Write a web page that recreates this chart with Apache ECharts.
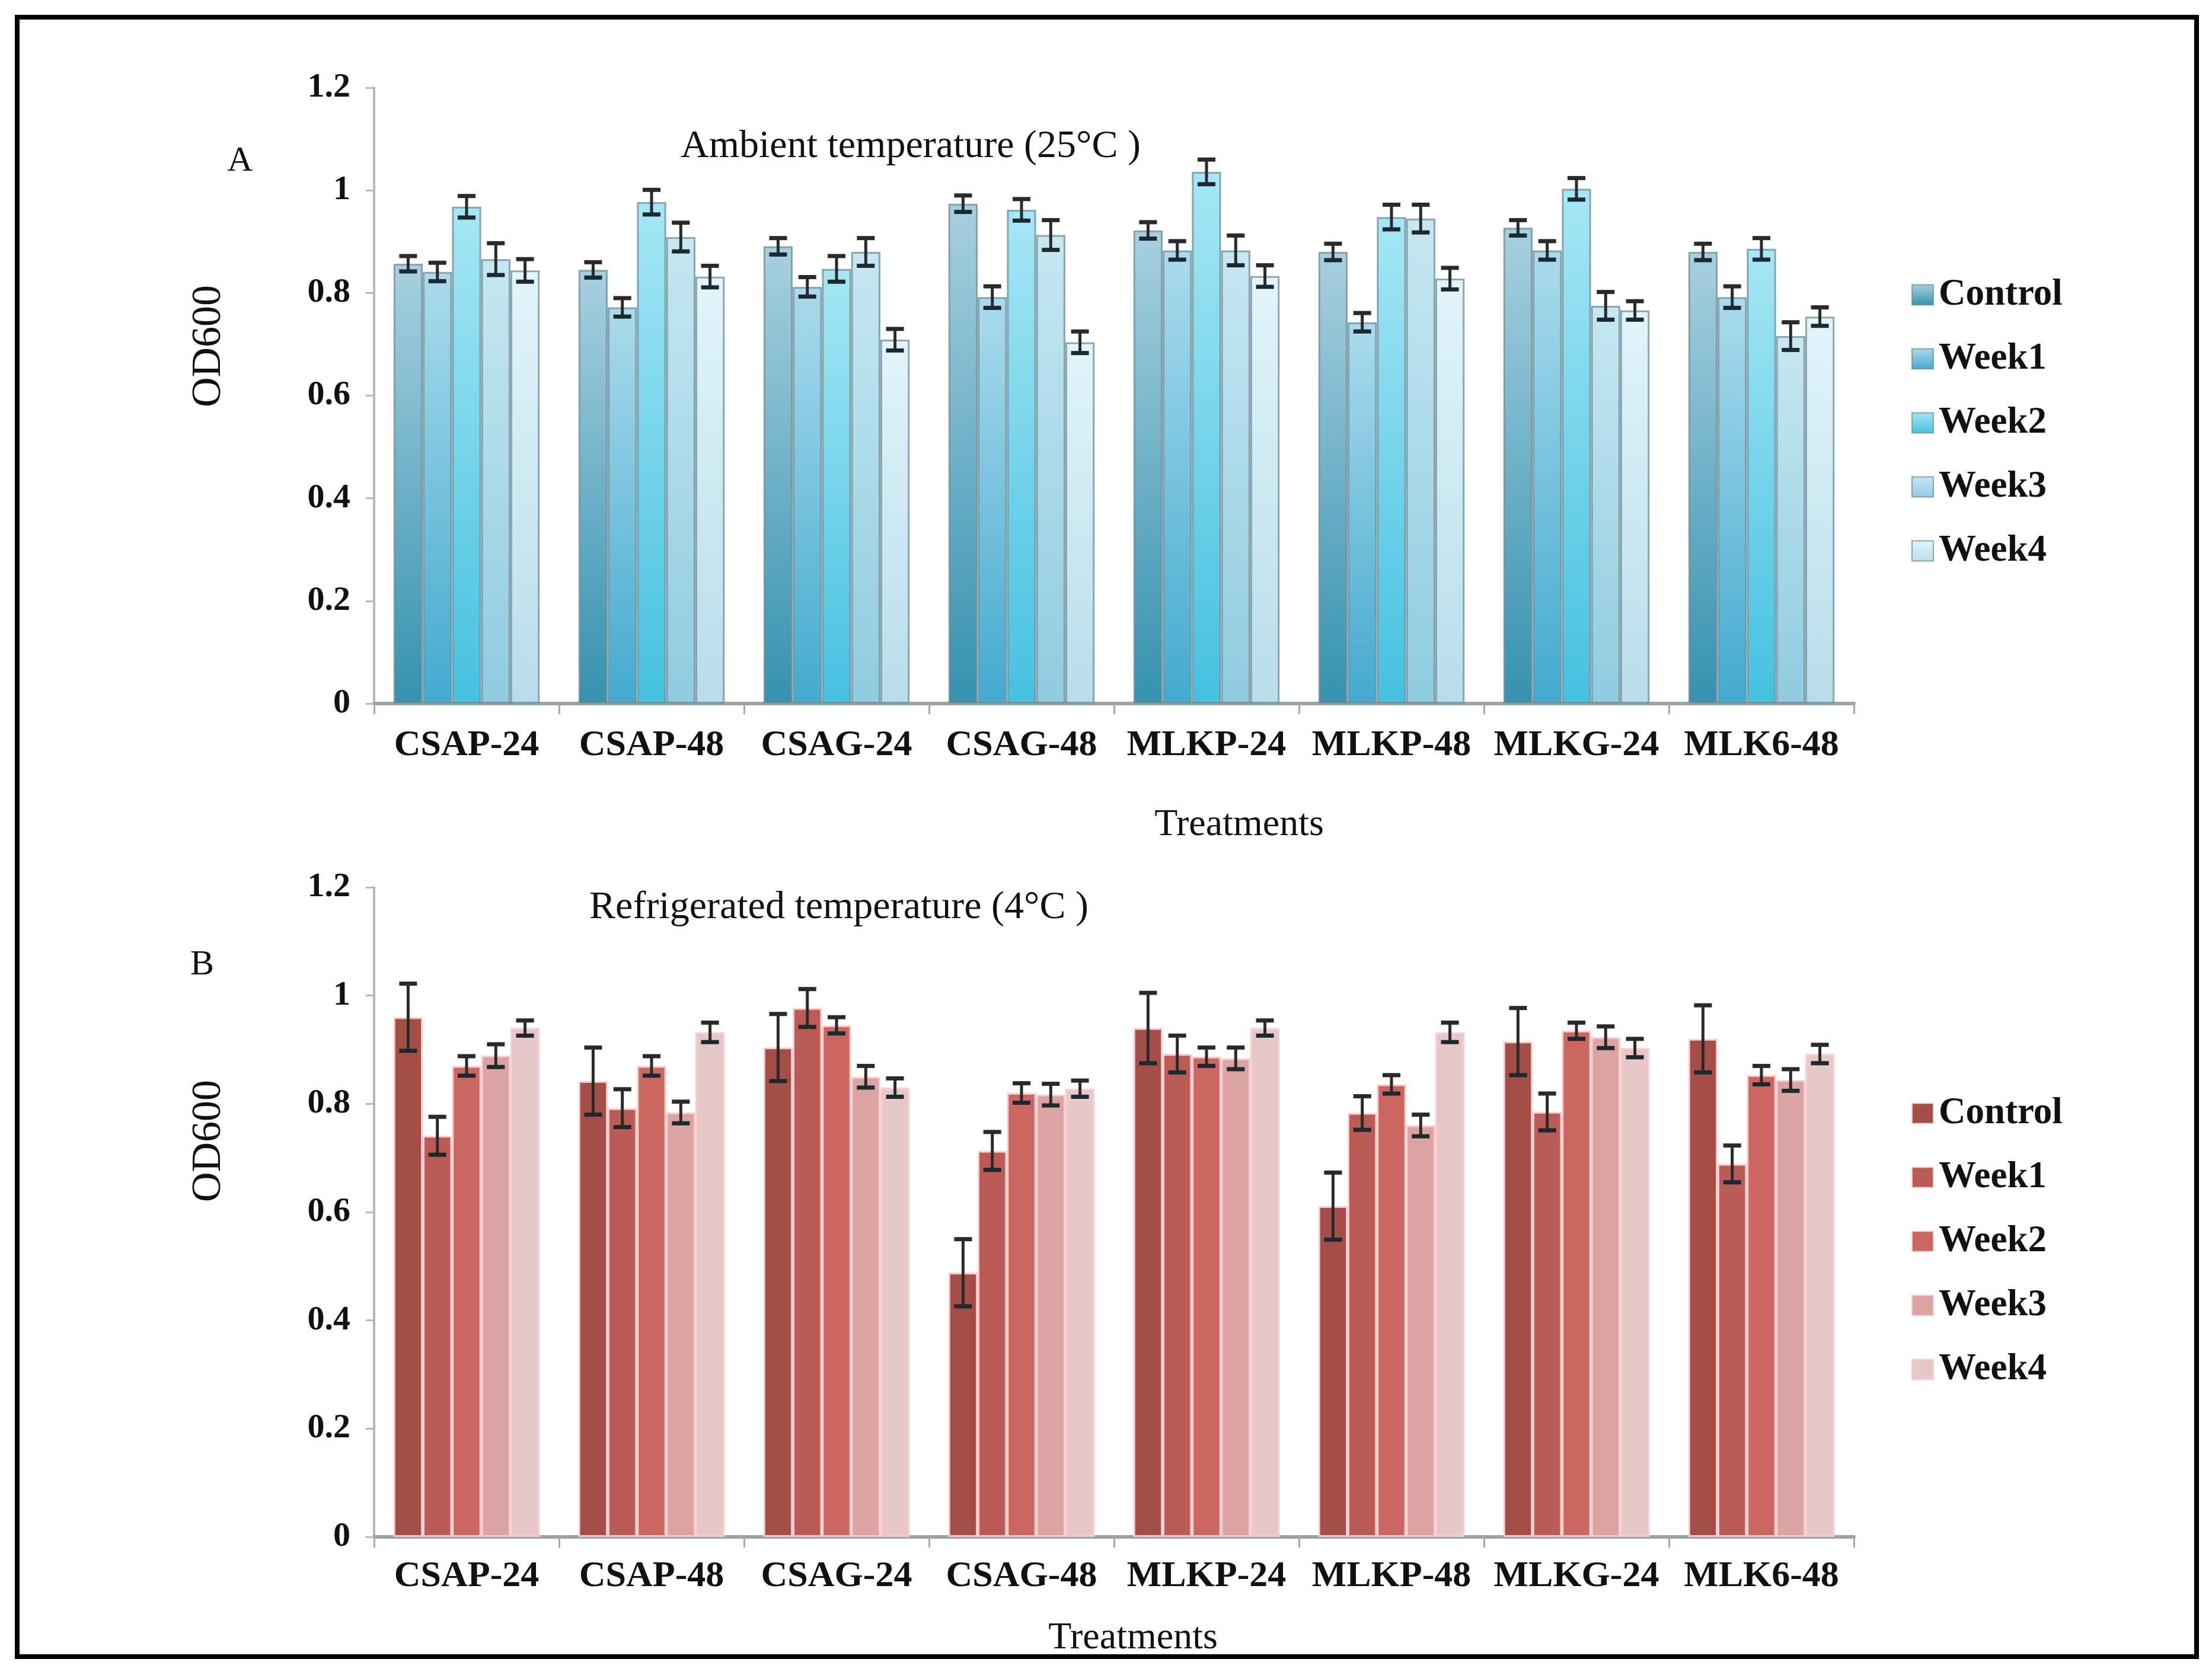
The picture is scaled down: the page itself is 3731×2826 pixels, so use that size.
<!DOCTYPE html>
<html>
<head>
<meta charset="utf-8">
<script src="https://cdn.jsdelivr.net/npm/echarts@6/dist/echarts.min.js"></script>
<style>
html,body{margin:0;padding:0;background:#fff;}
#main{width:3731px;height:2826px;}
</style>
</head>
<body>
<div id="main"></div>
<script>
const categories = ['CSAP-24','CSAP-48','CSAG-24','CSAG-48','MLKP-24','MLKP-48','MLKG-24','MLK6-48'];
const seriesNames = ['Control','Week1','Week2','Week3','Week4'];
const yTicks = [0,0.2,0.4,0.6,0.8,1,1.2];

// Panel A: ambient temperature (25°C)
const ambControl = [0.857,0.845,0.891,0.974,0.922,0.880,0.927,0.880];
const ambWeek1   = [0.841,0.772,0.812,0.792,0.883,0.743,0.883,0.792];
const ambWeek2   = [0.968,0.977,0.847,0.962,1.036,0.948,1.003,0.886];
const ambWeek3   = [0.866,0.909,0.880,0.913,0.883,0.945,0.775,0.716];
const ambWeek4   = [0.844,0.832,0.709,0.704,0.833,0.828,0.766,0.754];
const ambErrControl = [0.015,0.015,0.016,0.016,0.016,0.016,0.015,0.016];
const ambErrWeek1   = [0.018,0.018,0.019,0.021,0.018,0.018,0.018,0.021];
const ambErrWeek2   = [0.021,0.024,0.025,0.021,0.024,0.024,0.021,0.021];
const ambErrWeek3   = [0.031,0.028,0.027,0.029,0.029,0.027,0.027,0.027];
const ambErrWeek4   = [0.022,0.021,0.021,0.021,0.021,0.021,0.018,0.018];

// Panel B: refrigerated temperature (4°C)
const refControl = [0.960,0.842,0.904,0.488,0.940,0.611,0.915,0.920];
const refWeek1   = [0.741,0.792,0.977,0.713,0.892,0.783,0.785,0.689];
const refWeek2   = [0.870,0.870,0.945,0.820,0.887,0.836,0.935,0.853];
const refWeek3   = [0.889,0.784,0.850,0.817,0.884,0.760,0.923,0.844];
const refWeek4   = [0.940,0.932,0.830,0.828,0.940,0.932,0.903,0.892];
const refErrControl = [0.062,0.062,0.062,0.062,0.065,0.062,0.062,0.062];
const refErrWeek1   = [0.035,0.035,0.035,0.035,0.034,0.031,0.034,0.034];
const refErrWeek2   = [0.018,0.018,0.015,0.018,0.017,0.017,0.015,0.017];
const refErrWeek3   = [0.021,0.020,0.020,0.020,0.020,0.020,0.020,0.020];
const refErrWeek4   = [0.014,0.018,0.017,0.015,0.014,0.018,0.017,0.017];

const ambValues = [ambControl, ambWeek1, ambWeek2, ambWeek3, ambWeek4];
const ambErrors = [ambErrControl, ambErrWeek1, ambErrWeek2, ambErrWeek3, ambErrWeek4];
const refValues = [refControl, refWeek1, refWeek2, refWeek3, refWeek4];
const refErrors = [refErrControl, refErrWeek1, refErrWeek2, refErrWeek3, refErrWeek4];

const blueGrad = [
  ['#A8D0DF','#3592AF'],
  ['#ABDBEC','#43AACF'],
  ['#A6E7F5','#45C1E0'],
  ['#C6E8F2','#90CBE0'],
  ['#E2F5FA','#B8DDEB']
];
const redColors = ['#A34E47','#BA5C55','#CC6660','#DBA3A1','#E6C8C8'];

const CAT_GAP = 0.21;
const serif = '"Liberation Serif", "DejaVu Serif", serif';

const chart = echarts.init(document.getElementById('main'), null, {renderer:'canvas'});

function makeErrRender(){
  return function(params, api){
    const cat = api.value(0), s = api.value(1), v = api.value(2), e = api.value(3);
    const c = api.coord([cat, v]);
    const catW = api.size([1, 0])[0];
    const groupW = catW * (1 - CAT_GAP);
    const bw = groupW / 5;
    const x = c[0] - groupW / 2 + bw * (s + 0.5);
    const yTop = api.coord([cat, v + e])[1];
    const yBot = api.coord([cat, v - e])[1];
    const hw = 15;
    const st = {stroke:'#2a2a2a', lineWidth:5};
    return {type:'group', children:[
      {type:'line', shape:{x1:x, y1:yTop, x2:x, y2:yBot}, style:st},
      {type:'line', shape:{x1:x-hw, y1:yTop, x2:x+hw, y2:yTop}, style:{stroke:'#2a2a2a', lineWidth:7}},
      {type:'line', shape:{x1:x-hw, y1:yBot, x2:x+hw, y2:yBot}, style:{stroke:'#1a2a30', lineWidth:7}}
    ]};
  };
}

function errData(values, errors){
  const out = [];
  values.forEach((arr, s) => arr.forEach((v, i) => out.push([i, s, v, errors[s][i]])));
  return out;
}

const series = [];
seriesNames.forEach((n, s) => {
  series.push({
    name: 'A|' + n, type: 'bar', xAxisIndex: 0, yAxisIndex: 0,
    data: ambValues[s], barGap: '0%', barCategoryGap: (CAT_GAP*100) + '%',
    itemStyle: {
      color: new echarts.graphic.LinearGradient(0, 0, 0, 1, [
        {offset: 0, color: blueGrad[s][0]}, {offset: 1, color: blueGrad[s][1]}
      ]),
      borderColor: 'rgba(110,140,150,0.75)', borderWidth: 3
    }
  });
});
seriesNames.forEach((n, s) => {
  series.push({
    name: 'B|' + n, type: 'bar', xAxisIndex: 1, yAxisIndex: 1,
    data: refValues[s], barGap: '0%', barCategoryGap: (CAT_GAP*100) + '%',
    itemStyle: {color: redColors[s], borderColor: 'rgba(250,205,205,0.95)', borderWidth: 3}
  });
});
series.push({
  type: 'custom', xAxisIndex: 0, yAxisIndex: 0, z: 10,
  renderItem: makeErrRender(), encode: {x: 0, y: 2},
  data: errData(ambValues, ambErrors), silent: true
});
series.push({
  type: 'custom', xAxisIndex: 1, yAxisIndex: 1, z: 10,
  renderItem: makeErrRender(), encode: {x: 0, y: 2},
  data: errData(refValues, refErrors), silent: true
});

function xAxisCfg(idx, margin){
  return {
    type: 'category', gridIndex: idx, data: categories,
    axisLine: {lineStyle: {color: '#9aa3a6', width: 6}},
    axisTick: {show: true, length: 18, lineStyle: {color: '#a9a9a9', width: 3}},
    axisLabel: {fontFamily: serif, fontWeight: 'bold', fontSize: 62, color: '#111', margin: margin, interval: 0}
  };
}
function yAxisCfg(idx){
  return {
    type: 'value', gridIndex: idx, min: 0, max: 1.2, interval: 0.2,
    axisLine: {show: true, lineStyle: {color: '#b8b8b8', width: 4}},
    axisTick: {show: true, length: 14, lineStyle: {color: '#b8b8b8', width: 3}},
    splitLine: {show: false},
    axisLabel: {fontFamily: serif, fontWeight: 'bold', fontSize: 58, color: '#111', margin: 40,
      formatter: v => String(Math.round(v*10)/10)}
  };
}

function legendCfg(prefix, top){
  return {
    orient: 'vertical', left: 3219, top: top,
    data: seriesNames.map(n => prefix + '|' + n),
    formatter: name => name.split('|')[1],
    icon: 'rect', itemWidth: 36, itemHeight: 34, itemGap: 45,
    textStyle: {fontFamily: serif, fontWeight: 'bold', fontSize: 63, color: '#111', lineHeight: 62, padding: [0,0,0,4]},
    selectedMode: false
  };
}

const txt = (t, x, y, size, opts) => Object.assign({
  type: 'text', x: x, y: y,
  style: {text: t, fontFamily: serif, fontSize: size, fill: '#111', align: 'center', verticalAlign: 'middle'}
}, opts || {});

chart.setOption({
  backgroundColor: '#fff',
  animation: false,
  grid: [
    {left: 631, right: 604, top: 148, height: 1039, containLabel: false},
    {left: 631, right: 604, top: 1497, height: 1096, containLabel: false}
  ],
  xAxis: [xAxisCfg(0, 40), xAxisCfg(1, 36)],
  yAxis: [yAxisCfg(0), yAxisCfg(1)],
  legend: [legendCfg('A', 461), legendCfg('B', 1842)],
  series: series,
  graphic: [
    {type: 'rect', shape: {x: 29, y: 29, width: 3676, height: 2766}, style: {fill: 'none', stroke: '#000', lineWidth: 8}, z: 100},
    txt('A', 405, 272, 60),
    txt('B', 341, 1628, 60),
    txt('Ambient temperature (25°C )', 1536, 248, 66),
    txt('Refrigerated temperature (4°C )', 1415, 1532, 66),
    txt('Treatments', 2090, 1392, 64),
    txt('Treatments', 1911, 2764, 64),
    txt('OD600', 353, 584, 70, {rotation: Math.PI / 2}),
    txt('OD600', 353, 1925, 70, {rotation: Math.PI / 2})
  ]
});
</script>
</body>
</html>
